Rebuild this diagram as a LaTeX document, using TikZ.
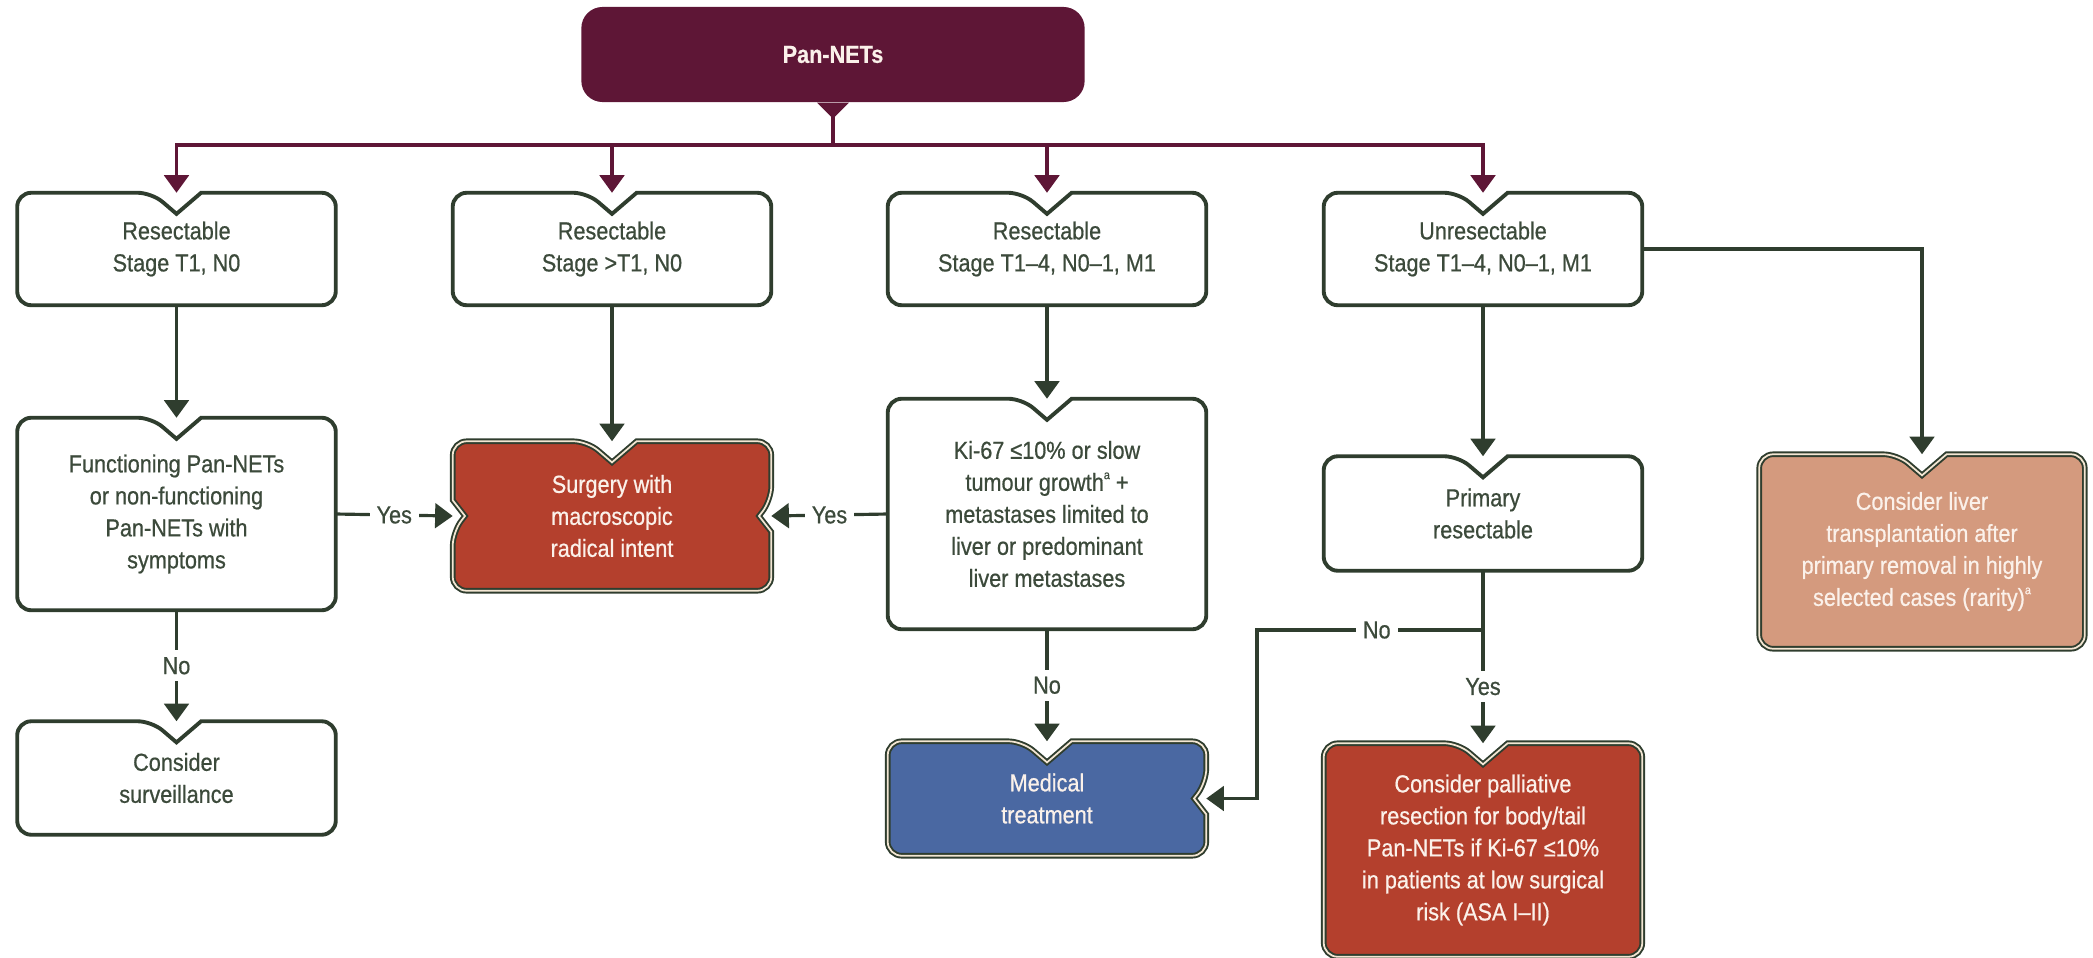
\documentclass[tikz,border=0pt]{standalone}
\usepackage{fontspec}
\setmainfont{Liberation Sans}[FakeStretch=0.88,FakeBold=0.6]
\usepackage{tikz}
\usetikzlibrary{arrows.meta,backgrounds}
\tikzset{>={Triangle[width=7pt,length=5pt]}}
\definecolor{panmaroon}{HTML}{5E1636}
\definecolor{edgegreen}{HTML}{2F3D2E}
\definecolor{txtgreen}{HTML}{3C4A3B}
\definecolor{surgred}{HTML}{B4402D}
\definecolor{medblue}{HTML}{4A68A2}
\definecolor{livertan}{HTML}{D49A7E}
\definecolor{creamline}{HTML}{F3E6D3}
\definecolor{boxwhite}{HTML}{FBF1EA}
\newcommand{\notchw}{7pt}
\newcommand{\notchd}{6pt}
\newcommand{\sidew}{4.5pt}
\newcommand{\sided}{3.5pt}
\newcommand{\fnmark}[1]{\raisebox{0.9ex}{\fontsize{3.5}{4}\selectfont #1}}
\newcommand{\topnotch}[1]{-- ([xshift=-\notchw]#1.north) [sharp corners] -- ([yshift=-\notchd]#1.north) -- ([xshift=\notchw]#1.north) [rounded corners=4pt]}
\newcommand{\rightnotch}[1]{-- ([yshift=\sidew]#1.east) [sharp corners] -- ([xshift=-\sided]#1.east) -- ([yshift=-\sidew]#1.east) [rounded corners=4pt]}
\newcommand{\leftnotch}[1]{-- ([yshift=-\sidew]#1.west) [sharp corners] -- ([xshift=\sided]#1.west) -- ([yshift=\sidew]#1.west) [rounded corners=4pt]}

\begin{document}
\begin{tikzpicture}[x=0.01cm,y=-0.01cm,
  every node/.style={font=\fontsize{7}{9.1}\selectfont, align=center},
  box/.style={minimum width=3.17cm, inner sep=0pt, text=txtgreen},
  wbox/.style={box, text=boxwhite},
  plain/.style={draw=edgegreen, line width=1.1pt, fill=white, rounded corners=4pt},
  coloured/.style={draw=edgegreen, line width=0.55pt, double=creamline, double distance=0.5pt, fill=#1, rounded corners=4pt},
  mline/.style={draw=panmaroon, line width=0.9pt},
  gline/.style={draw=edgegreen, line width=0.9pt},
  lbl/.style={fill=white, inner sep=2pt, text=txtgreen}]

\useasboundingbox (0,0) rectangle (2093,957);

% Top
\node[box, minimum width=5.03cm, minimum height=0.95cm, fill=panmaroon, rounded corners=6pt,
  text=boxwhite, font=\fontsize{7}{9.1}\selectfont\bfseries] (top) at (833,54.5) {Pan-NETs};
\fill[panmaroon] ([xshift=-4.5pt]top.south) -- ([yshift=-4.5pt]top.south) -- ([xshift=4.5pt]top.south) -- cycle;

% Stages
\node[box, minimum height=1.11cm] (r1a) at (176.5,249) {Resectable\\Stage T1, N0};
\node[box, minimum height=1.11cm] (r1b) at (612,249) {Resectable\\Stage >T1, N0};
\node[box, minimum height=1.11cm] (r1c) at (1047,249) {Resectable\\Stage T1--4, N0--1, M1};
\node[box, minimum height=1.11cm] (r1d) at (1483,249) {Unresectable\\Stage T1--4, N0--1, M1};

% Second row
\node[box, minimum height=1.91cm] (func) at (176.5,514) {Functioning Pan-NETs\\or non-functioning\\Pan-NETs with\\symptoms};
\node[wbox, minimum height=1.48cm] (surg) at (612,516) {Surgery with\\macroscopic\\radical intent};
\node[box, minimum height=2.29cm] (kisl) at (1047,514) {Ki-67 ≤10\% or slow\\tumour growth\fnmark{a} +\\metastases limited to\\liver or predominant\\liver metastases};
\node[box, minimum height=1.13cm] (prim) at (1483,513.5) {Primary\\resectable};
\node[wbox, minimum width=3.24cm, minimum height=1.93cm] (livr) at (1922,551.5) {Consider liver\\transplantation after\\primary removal in highly\\selected cases (rarity)\fnmark{a}};

% Third row
\node[box, minimum height=1.12cm] (surv) at (176.5,778) {Consider\\surveillance};
\node[wbox, minimum height=1.13cm] (medt) at (1047,798.5) {Medical\\treatment};
\node[wbox, minimum height=2.12cm] (pall) at (1483,850) {Consider palliative\\resection for body/tail\\Pan-NETs if Ki-67 ≤10\%\\in patients at low surgical\\risk (ASA I--II)};

% Box outlines
\begin{scope}[on background layer]
\foreach \n in {r1a,r1b,r1c,r1d,func,kisl,prim,surv}
  \draw[plain] (\n.north west) \topnotch{\n} -- (\n.north east) -- (\n.south east) -- (\n.south west) -- cycle;
\draw[coloured=surgred] (surg.north west) \topnotch{surg} -- (surg.north east) \rightnotch{surg} -- (surg.south east) -- (surg.south west) \leftnotch{surg} -- cycle;
\draw[coloured=medblue] (medt.north west) \topnotch{medt} -- (medt.north east) \rightnotch{medt} -- (medt.south east) -- (medt.south west) -- cycle;
\draw[coloured=surgred] (pall.north west) \topnotch{pall} -- (pall.north east) -- (pall.south east) -- (pall.south west) -- cycle;
\draw[coloured=livertan] (livr.north west) \topnotch{livr} -- (livr.north east) -- (livr.south east) -- (livr.south west) -- cycle;
\end{scope}

% Branches from the top
\coordinate (bus) at (833,145);
\draw[mline] ([yshift=-4pt]top.south) -- (bus);
\foreach \n in {r1a,r1b,r1c,r1d}
  \draw[mline,->] (bus) -| (\n.north);

% Down the columns
\draw[gline,->] (r1a.south) -- (func.north);
\draw[gline,->] (r1b.south) -- (surg.north);
\draw[gline,->] (r1c.south) -- (kisl.north);
\draw[gline,->] (r1d.south) -- (prim.north);
\draw[gline,->] (r1d.east) -| (livr.north);

% Decisions
\draw[gline,->] (func.east) -- node[lbl]{Yes} (surg.west);
\draw[gline,->] (kisl.west) -- node[lbl]{Yes} (surg.east);
\draw[gline,->] (func.south) -- node[lbl]{No} (surv.north);
\draw[gline,->] (kisl.south) -- node[lbl]{No} (medt.north);

\coordinate (jn) at (1483,630);
\coordinate (bend) at (1257,630);
\draw[gline] (prim.south) -- (jn);
\draw[gline,->] (jn) -- node[lbl]{Yes} (pall.north);
\draw[gline,->] (jn) -- node[lbl,pos=0.47]{No} (bend) |- (medt.east);

\end{tikzpicture}
\end{document}
